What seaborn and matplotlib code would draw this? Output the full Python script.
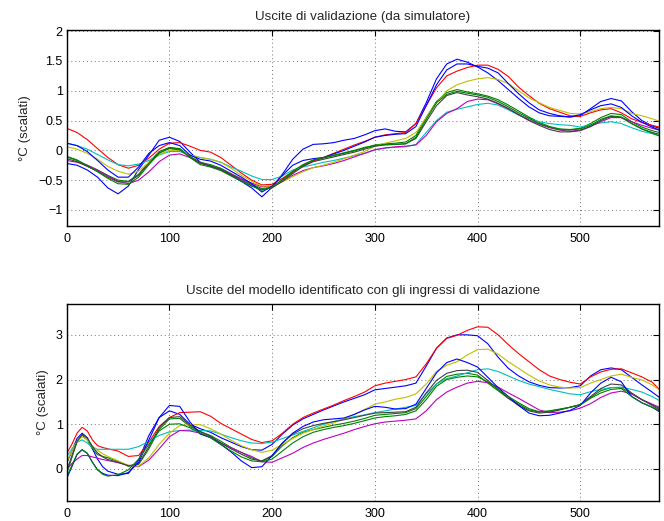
import numpy as np
import pandas as pd
import matplotlib
matplotlib.use("Agg")
import matplotlib.pyplot as plt
import seaborn as sns

# ---------------- data ----------------
x_top = list(range(0, 571, 10)) + [577]
x_bot = [0, 5, 10, 15, 20, 25, 30, 35, 40] + list(range(50, 571, 10)) + [577]

# top panel: "Uscite di validazione (da simulatore)"
blueA_top = [-0.22, -0.25, -0.33, -0.45, -0.63, -0.73, -0.60, -0.32, -0.08, 0.17,
             0.22, 0.15, -0.03, -0.20, -0.27, -0.32, -0.42, -0.52, -0.63, -0.78,
             -0.62, -0.40, -0.15, 0.02, 0.10, 0.11, 0.13, 0.17, 0.20, 0.26,
             0.33, 0.36, 0.32, 0.31, 0.45, 0.80, 1.20, 1.45, 1.53, 1.48,
             1.40, 1.30, 1.17, 1.02, 0.87, 0.73, 0.63, 0.58, 0.57, 0.56,
             0.58, 0.70, 0.82, 0.87, 0.83, 0.65, 0.50, 0.41,
             0.37]
green1_top = [-0.11, -0.17, -0.25, -0.33, -0.42, -0.50, -0.52, -0.40, -0.20, -0.02,
              0.05, 0.03, -0.10, -0.20, -0.24, -0.30, -0.39, -0.48, -0.57, -0.64,
              -0.62, -0.50, -0.37, -0.25, -0.17, -0.13, -0.09, -0.05, -0.01, 0.04,
              0.09, 0.11, 0.12, 0.14, 0.25, 0.55, 0.82, 0.97, 1.02, 0.98,
              0.95, 0.91, 0.85, 0.76, 0.66, 0.56, 0.47, 0.40, 0.36, 0.35,
              0.37, 0.45, 0.55, 0.62, 0.60, 0.48, 0.39, 0.33,
              0.30]
red_top = [0.37, 0.30, 0.18, 0.03, -0.12, -0.24, -0.30, -0.25, -0.13, 0.02,
           0.12, 0.13, 0.07, 0.00, -0.03, -0.12, -0.25, -0.38, -0.50, -0.58,
           -0.57, -0.47, -0.36, -0.26, -0.18, -0.12, -0.05, 0.02, 0.09, 0.15,
           0.22, 0.26, 0.28, 0.30, 0.45, 0.75, 1.05, 1.25, 1.33, 1.39,
           1.43, 1.43, 1.36, 1.24, 1.06, 0.92, 0.79, 0.70, 0.64, 0.58,
           0.57, 0.63, 0.68, 0.70, 0.63, 0.53, 0.47, 0.42,
           0.39]
cyan_top = [0.12, 0.08, 0.02, -0.07, -0.16, -0.24, -0.26, -0.23, -0.17, -0.08,
            -0.02, -0.02, -0.08, -0.12, -0.15, -0.20, -0.28, -0.35, -0.43, -0.49,
            -0.49, -0.43, -0.33, -0.28, -0.24, -0.20, -0.17, -0.13, -0.09, -0.05,
            0.01, 0.04, 0.05, 0.06, 0.10, 0.30, 0.50, 0.64, 0.69, 0.73,
            0.77, 0.79, 0.76, 0.68, 0.59, 0.53, 0.48, 0.45, 0.43, 0.42,
            0.39, 0.43, 0.46, 0.48, 0.45, 0.38, 0.32, 0.28,
            0.25]
magenta_top = [-0.17, -0.20, -0.25, -0.33, -0.43, -0.52, -0.56, -0.50, -0.36, -0.19,
               -0.08, -0.06, -0.12, -0.21, -0.26, -0.32, -0.40, -0.48, -0.55, -0.61,
               -0.60, -0.52, -0.42, -0.34, -0.29, -0.26, -0.22, -0.17, -0.11, -0.05,
               0.01, 0.04, 0.06, 0.07, 0.09, 0.25, 0.48, 0.62, 0.70, 0.82,
               0.86, 0.85, 0.78, 0.70, 0.60, 0.51, 0.44, 0.38, 0.34, 0.32,
               0.34, 0.40, 0.48, 0.55, 0.55, 0.48, 0.42, 0.37,
               0.34]
yellow_top = [0.06, 0.02, -0.05, -0.15, -0.27, -0.35, -0.40, -0.35, -0.20, -0.07,
              0.00, 0.00, -0.08, -0.12, -0.15, -0.20, -0.30, -0.42, -0.52, -0.60,
              -0.60, -0.53, -0.44, -0.36, -0.29, -0.25, -0.20, -0.14, -0.08, -0.02,
              0.07, 0.12, 0.16, 0.20, 0.30, 0.55, 0.80, 1.00, 1.10, 1.16,
              1.20, 1.22, 1.19, 1.12, 1.00, 0.88, 0.80, 0.72, 0.67, 0.62,
              0.61, 0.65, 0.70, 0.72, 0.70, 0.62, 0.58, 0.53,
              0.49]
black_top = [-0.14, -0.19, -0.27, -0.35, -0.45, -0.53, -0.53, -0.42, -0.22, -0.04,
             0.03, 0.01, -0.11, -0.22, -0.26, -0.32, -0.41, -0.50, -0.59, -0.66,
             -0.63, -0.52, -0.39, -0.27, -0.19, -0.15, -0.11, -0.07, -0.03, 0.02,
             0.07, 0.09, 0.10, 0.11, 0.20, 0.48, 0.75, 0.92, 0.97, 0.93,
             0.90, 0.86, 0.79, 0.70, 0.60, 0.50, 0.42, 0.35, 0.31, 0.31,
             0.33, 0.40, 0.50, 0.57, 0.55, 0.45, 0.36, 0.30,
             0.27]
blueB_top = [0.12, 0.08, -0.02, -0.17, -0.33, -0.45, -0.45, -0.28, -0.05, 0.08,
             0.13, 0.08, -0.08, -0.15, -0.18, -0.25, -0.35, -0.45, -0.56, -0.70,
             -0.60, -0.42, -0.25, -0.17, -0.14, -0.12, -0.06, 0.00, 0.07, 0.14,
             0.22, 0.25, 0.27, 0.28, 0.40, 0.75, 1.10, 1.35, 1.45, 1.45,
             1.41, 1.38, 1.30, 1.12, 0.95, 0.80, 0.68, 0.62, 0.58, 0.56,
             0.60, 0.68, 0.75, 0.78, 0.72, 0.58, 0.47, 0.39,
             0.34]
green2_top = [-0.10, -0.16, -0.26, -0.36, -0.47, -0.56, -0.57, -0.45, -0.24, -0.05,
              0.04, 0.02, -0.12, -0.24, -0.28, -0.34, -0.43, -0.52, -0.60, -0.67,
              -0.62, -0.49, -0.35, -0.24, -0.16, -0.12, -0.08, -0.04, 0.00, 0.05,
              0.08, 0.10, 0.10, 0.11, 0.22, 0.52, 0.80, 0.94, 0.99, 0.96,
              0.93, 0.89, 0.82, 0.73, 0.63, 0.54, 0.45, 0.39, 0.35, 0.34,
              0.36, 0.42, 0.52, 0.58, 0.56, 0.45, 0.36, 0.29,
              0.24]

# bottom panel: "Uscite del modello identificato con gli ingressi di validazione"
blueA_bot = [0.13, 0.40, 0.68, 0.80, 0.70, 0.45, 0.22, 0.05, -0.05,
             -0.12, -0.10, 0.20, 0.75, 1.15, 1.30, 1.22, 1.00, 0.90, 0.82,
             0.70, 0.60, 0.50, 0.43, 0.42, 0.55, 0.78, 0.98, 1.12, 1.22,
             1.32, 1.41, 1.50, 1.58, 1.66, 1.77, 1.80, 1.83, 1.86, 1.92,
             2.30, 2.70, 2.93, 3.00, 3.00, 2.98, 2.80, 2.50, 2.25, 2.08,
             1.95, 1.87, 1.82, 1.81, 1.82, 1.86, 2.08, 2.22, 2.26, 2.22,
             2.05, 1.88, 1.72,
             1.60]
green1_bot = [-0.10, 0.25, 0.60, 0.76, 0.65, 0.45, 0.32, 0.28, 0.25,
              0.17, 0.06, 0.10, 0.45, 0.88, 1.12, 1.13, 0.95, 0.83, 0.75,
              0.62, 0.48, 0.37, 0.25, 0.17, 0.28, 0.52, 0.70, 0.82, 0.88,
              0.93, 0.98, 1.02, 1.07, 1.13, 1.20, 1.22, 1.24, 1.26, 1.35,
              1.62, 1.90, 2.07, 2.12, 2.14, 2.10, 1.92, 1.75, 1.58, 1.45,
              1.32, 1.27, 1.29, 1.33, 1.38, 1.44, 1.60, 1.75, 1.82, 1.82,
              1.68, 1.55, 1.44,
              1.35]
red_bot = [0.35, 0.55, 0.80, 0.93, 0.85, 0.65, 0.52, 0.48, 0.45,
           0.40, 0.28, 0.30, 0.60, 0.95, 1.15, 1.26, 1.27, 1.28, 1.18,
           1.02, 0.90, 0.78, 0.66, 0.59, 0.63, 0.80, 1.00, 1.15, 1.25,
           1.34, 1.43, 1.53, 1.62, 1.72, 1.86, 1.92, 1.96, 2.00, 2.06,
           2.35, 2.70, 2.92, 2.99, 3.10, 3.18, 3.17, 3.00, 2.78, 2.58,
           2.40, 2.22, 2.08, 2.00, 1.94, 1.90, 2.06, 2.17, 2.23, 2.24,
           2.15, 2.06, 1.94,
           1.78]
cyan_bot = [0.28, 0.45, 0.60, 0.65, 0.58, 0.48, 0.44, 0.44, 0.44,
            0.44, 0.44, 0.50, 0.62, 0.75, 0.83, 0.86, 0.87, 0.86, 0.85,
            0.78, 0.70, 0.63, 0.58, 0.57, 0.60, 0.68, 0.76, 0.84, 0.92,
            1.00, 1.06, 1.12, 1.17, 1.21, 1.26, 1.30, 1.34, 1.38, 1.42,
            1.68, 1.90, 2.02, 2.08, 2.15, 2.22, 2.24, 2.18, 2.08, 1.98,
            1.90, 1.84, 1.78, 1.73, 1.68, 1.66, 1.73, 1.78, 1.82, 1.83,
            1.78, 1.72, 1.62,
            1.53]
magenta_bot = [0.00, 0.12, 0.22, 0.30, 0.30, 0.27, 0.24, 0.21, 0.19,
               0.14, 0.08, 0.05, 0.20, 0.45, 0.72, 0.86, 0.85, 0.80, 0.71,
               0.58, 0.47, 0.37, 0.28, 0.16, 0.15, 0.25, 0.35, 0.48, 0.58,
               0.66, 0.73, 0.80, 0.88, 0.95, 1.01, 1.05, 1.07, 1.09, 1.12,
               1.30, 1.55, 1.72, 1.83, 1.92, 1.96, 1.93, 1.83, 1.70, 1.58,
               1.45, 1.32, 1.26, 1.27, 1.30, 1.36, 1.46, 1.60, 1.70, 1.74,
               1.68, 1.55, 1.45,
               1.38]
yellow_bot = [0.16, 0.40, 0.62, 0.72, 0.65, 0.52, 0.42, 0.34, 0.28,
              0.18, 0.08, 0.06, 0.25, 0.55, 0.80, 0.97, 0.99, 0.99, 0.90,
              0.78, 0.64, 0.52, 0.43, 0.37, 0.42, 0.55, 0.68, 0.80, 0.88,
              0.96, 1.03, 1.12, 1.22, 1.33, 1.45, 1.50, 1.56, 1.60, 1.68,
              1.90, 2.18, 2.32, 2.40, 2.55, 2.67, 2.68, 2.57, 2.40, 2.25,
              2.10, 1.97, 1.88, 1.83, 1.81, 1.82, 1.92, 2.00, 2.08, 2.12,
              2.05, 1.99, 1.88,
              1.77]
black_bot = [-0.05, 0.30, 0.62, 0.77, 0.70, 0.50, 0.36, 0.27, 0.21,
             0.15, 0.07, 0.12, 0.50, 0.92, 1.15, 1.17, 0.98, 0.84, 0.73,
             0.58, 0.45, 0.33, 0.22, 0.18, 0.30, 0.58, 0.78, 0.90, 0.97,
             1.02, 1.06, 1.10, 1.15, 1.20, 1.25, 1.26, 1.27, 1.28, 1.38,
             1.70, 1.98, 2.14, 2.20, 2.21, 2.16, 1.98, 1.78, 1.58, 1.42,
             1.30, 1.25, 1.27, 1.32, 1.38, 1.44, 1.62, 1.80, 1.90, 1.88,
             1.70, 1.55, 1.42,
             1.32]
blueB_bot = [-0.21, 0.05, 0.32, 0.43, 0.35, 0.15, -0.02, -0.10, -0.14,
             -0.15, -0.08, 0.15, 0.65, 1.15, 1.42, 1.40, 1.05, 0.78, 0.70,
             0.55, 0.38, 0.18, 0.03, 0.05, 0.30, 0.58, 0.80, 0.95, 1.05,
             1.10, 1.12, 1.14, 1.22, 1.32, 1.40, 1.38, 1.34, 1.35, 1.45,
             1.80, 2.15, 2.38, 2.46, 2.38, 2.28, 2.05, 1.82, 1.62, 1.42,
             1.25, 1.19, 1.20, 1.25, 1.31, 1.42, 1.70, 1.92, 2.05, 1.95,
             1.62, 1.48, 1.38,
             1.28]
green2_bot = [-0.18, 0.08, 0.33, 0.43, 0.35, 0.15, -0.02, -0.12, -0.16,
              -0.13, -0.02, 0.22, 0.55, 0.85, 1.00, 1.01, 0.92, 0.80, 0.70,
              0.55, 0.40, 0.27, 0.18, 0.16, 0.22, 0.40, 0.58, 0.72, 0.82,
              0.88, 0.93, 0.97, 1.02, 1.08, 1.14, 1.17, 1.19, 1.22, 1.30,
              1.55, 1.85, 2.00, 2.05, 2.08, 2.06, 1.95, 1.78, 1.62, 1.48,
              1.35, 1.28, 1.30, 1.34, 1.38, 1.43, 1.58, 1.70, 1.78, 1.80,
              1.62, 1.48, 1.38,
              1.30]

top_series = [blueA_top, green1_top, red_top, cyan_top, magenta_top,
              yellow_top, black_top, blueB_top, green2_top]
bot_series = [blueA_bot, green1_bot, red_bot, cyan_bot, magenta_bot,
              yellow_bot, black_bot, blueB_bot, green2_bot]

title_top = "Uscite di validazione (da simulatore)"
title_bot = "Uscite del modello identificato con gli ingressi di validazione"
ylabel = "°C (scalati)"
xticks = [0, 100, 200, 300, 400, 500]
yticks_top = [-1, -0.5, 0, 0.5, 1, 1.5, 2]
yticklabels_top = ["\u22121", "\u22120.5", "0", "0.5", "1", "1.5", "2"]
yticks_bot = [0, 1, 2, 3]
yticklabels_bot = ["0", "1", "2", "3"]

# ---------------- style ----------------
sns.set_style("white")
plt.rcParams["font.family"] = ["Liberation Sans", "DejaVu Sans"]

colors = [(0, 0, 1), (0, 0.5, 0), (1, 0, 0), (0, 0.75, 0.75), (0.75, 0, 0.75),
          (0.75, 0.75, 0), (0.25, 0.25, 0.25), (0, 0, 1), (0, 0.5, 0)]

fig = plt.figure(figsize=(6.64, 5.21), dpi=100)
ax1 = fig.add_axes([0.1005, 0.5662, 0.8925, 0.3762])
ax2 = fig.add_axes([0.1005, 0.039, 0.8925, 0.3775])


def long_df(x, series):
    frames = []
    for i, s in enumerate(series):
        frames.append(pd.DataFrame({"x": x, "y": s, "serie": i}))
    return pd.concat(frames, ignore_index=True)


def draw(ax, x, series, title, yticks, yticklabels, ylim):
    df = long_df(x, series)
    sns.lineplot(data=df, x="x", y="y", hue="serie", palette=colors,
                 estimator=None, sort=False, legend=False, lw=0.8, ax=ax)
    ax.set_xlim(0, 577)
    ax.set_ylim(*ylim)
    ax.set_xticks(xticks)
    ax.set_xticklabels([str(t) for t in xticks])
    ax.set_yticks(yticks)
    ax.set_yticklabels(yticklabels)
    ax.set_xlabel("")
    ax.set_ylabel(ylabel, fontsize=9.6, labelpad=5)
    ax.set_title(title, fontsize=9.6, pad=7)
    ax.grid(True, color=(0.45, 0.45, 0.45), linestyle=(0, (1, 3)), linewidth=0.7)
    ax.tick_params(direction="in", top=True, right=True, length=4.5, width=0.8,
                   labelsize=9, colors="black")
    ax.tick_params(axis="x", pad=5)
    ax.tick_params(axis="y", pad=3)
    for sp in ax.spines.values():
        sp.set_visible(True)
        sp.set_color("black")
        sp.set_linewidth(1.0)


draw(ax1, x_top, top_series, title_top, yticks_top, yticklabels_top, (-1.27, 2.02))
draw(ax2, x_bot, bot_series, title_bot, yticks_bot, yticklabels_bot, (-0.71, 3.69))

fig.savefig("out.png", dpi=100)
